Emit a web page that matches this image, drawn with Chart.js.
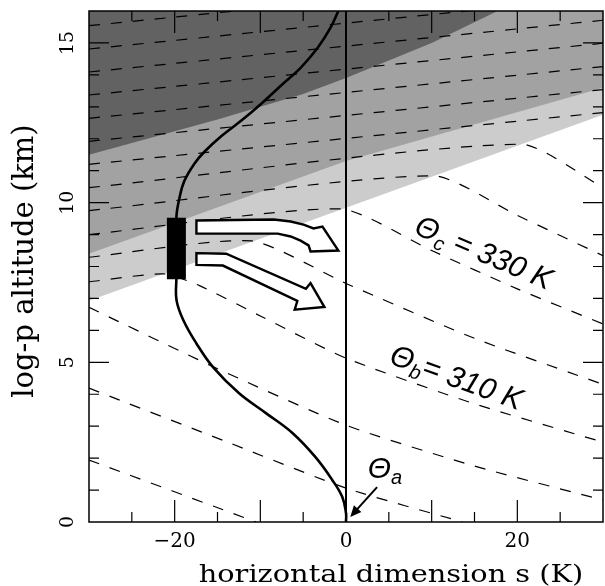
<!DOCTYPE html>
<html>
<head>
<meta charset="utf-8">
<script src="https://cdn.jsdelivr.net/npm/chart.js@4.4.0/dist/chart.umd.min.js"></script>
<style>
  html, body { margin: 0; padding: 0; background: #fff; }
  #wrap { width: 605px; height: 586px; }
</style>
</head>
<body>
<div id="wrap"><canvas id="c"></canvas></div>
<script>
// axis ranges and labels
const xMin = -30, xMax = 30;
const yMin = 0, yMax = 16;
const xTickLabels = [-20, 0, 20];
const yTickLabels = [0, 5, 10, 15];

// shading edges (s in K, altitude in km)
const darkEdgeX = [-30, -15, -5, 0, 10, 17.7, 30];
const darkEdgeY = [11.5, 12.6, 13.4, 13.9, 15.0, 16, 16];
const midEdgeX = [-30, 0, 30];
const midEdgeY = [8.4, 11.3, 13.6];
const tropoEdgeX = [-30, 0, 30];
const tropoEdgeY = [6.93, 9.84, 12.75];

// isentropes, [s, z] points, flat above the tropopause and sloping below
const isentropes = [
    [[-30, 1.94], [-10.5, 0]],
    [[-30, 4.19], [-14.3, 2.55], [0, 1.06], [13.6, 0]],
    [[-30, 6.72], [-15, 4.8], [0, 3.03], [15, 1.75], [30, 0.69]],
    [[-30, 7.52], [-21.3, 7.77], [-17.1, 7.4], [-10, 6.45], [0, 5.13], [15, 3.7], [30, 2.5]],
    [[-30, 8.29], [-11, 8.8], [0, 7.47], [15, 5.75], [30, 4.31]],
    [[-30, 9.0], [-0.5, 9.8], [10, 8.5], [20, 7.3], [30, 6.2]],
    [[-30, 9.75], [10.3, 10.84], [20, 9.6], [30, 8.34]],
    [[-30, 10.47], [20.5, 11.83], [30, 10.47]],
    [[-30, 11.2], [30, 12.82]],
    [[-30, 11.92], [30, 13.54]],
    [[-30, 12.64], [30, 14.26]],
    [[-30, 13.37], [30, 14.99]],
    [[-30, 14.09], [30, 15.71]],
    [[-30, 14.81], [30, 16.43]],
    [[-30, 15.54], [30, 17.16]]
];

// the s profile (solid curve)
const profileS = [0, 0, -0.43, -1.59, -3.56, -6.22, -9.35, -12.48, -15.5, -17.46, -18.97, -19.78, -19.8,
                  -19.8, -19.43, -18.85, -17.7, -16.5, -14.57, -12.25, -9.93, -7.61, -5.3, -3.33, -1.82, -0.89];
const profileZ = [0, 0.28, 0.78, 1.31, 2.03, 2.78, 3.41, 4.03, 4.84, 5.59, 6.31, 6.94, 7.63,
                  9.53, 10.16, 10.69, 11.22, 11.6, 12.08, 12.56, 13.09, 13.66, 14.22, 14.84, 15.47, 16];

// heating block
const blockS = -19.8;
const blockZ = [7.6, 9.53];

// outflow arrows (outline, [s, z])
const upperArrow = [[-17.46, 9.44], [-8.43, 9.47], [-6.46, 9.41], [-4.95, 9.31], [-3.79, 9.19], [-2.75, 9.25],
                    [-0.89, 8.5], [-4.14, 8.47], [-4.37, 8.66], [-5.3, 8.81], [-6.46, 8.94], [-7.97, 9.03],
                    [-17.46, 9.03]];
const lowerArrow = [[-17.46, 8.42], [-13.99, 8.40], [-4.68, 7.30], [-4.14, 7.48], [-2.52, 6.73],
                    [-5.99, 6.65], [-5.68, 6.92], [-14.37, 8.03], [-17.46, 8.05]];

const pts = (xs, ys) => xs.map((v, i) => ({ x: v, y: ys[i] }));
const pairs = arr => arr.map(p => ({ x: p[0], y: p[1] }));

const datasets = [
    { data: pts(tropoEdgeX, tropoEdgeY), fill: "end", backgroundColor: "#cccccc", borderColor: "rgba(0,0,0,0)", order: 10 },
    { data: pts(midEdgeX, midEdgeY), fill: "end", backgroundColor: "#a2a2a2", borderColor: "rgba(0,0,0,0)", order: 9 },
    { data: pts(darkEdgeX, darkEdgeY), fill: "end", backgroundColor: "#626262", borderColor: "rgba(0,0,0,0)", order: 8 }
];
isentropes.forEach(line => {
    datasets.push({
        data: pairs(line), borderColor: "#000", borderWidth: 1.2, borderDash: [11, 11],
        fill: false, tension: 0.2, order: 5
    });
});
datasets.push({ data: pts(profileS, profileZ), borderColor: "#000", borderWidth: 2.6, tension: 0.4, fill: false, order: 3 });
datasets.push({ data: [{ x: 0, y: yMin }, { x: 0, y: yMax }], borderColor: "#000", borderWidth: 2, fill: false, order: 3 });
datasets.push({ data: blockZ.map(z => ({ x: blockS, y: z })), borderColor: "#000", borderWidth: 19,
                borderCapStyle: "butt", fill: false, order: 2 });

function drawTheta(ctx, cx, cy, sub, rest, angle) {
    ctx.save();
    ctx.translate(cx, cy);
    ctx.rotate(angle * Math.PI / 180);
    const big = 'italic 30px "Liberation Sans"', small = 'italic 20px "Liberation Sans"';
    ctx.font = big;
    const w1 = ctx.measureText("Θ").width, w3 = ctx.measureText(rest).width;
    ctx.font = small;
    const w2 = ctx.measureText(sub).width;
    const x0 = -(w1 + w2 + w3) / 2;
    ctx.fillStyle = "#000";
    ctx.textAlign = "left";
    ctx.textBaseline = "alphabetic";
    ctx.font = big;
    ctx.fillText("Θ", x0, 10);
    ctx.font = small;
    ctx.fillText(sub, x0 + w1, 16);
    ctx.font = big;
    ctx.fillText(rest, x0 + w1 + w2, 10);
    ctx.restore();
}

const decor = {
    id: "decor",
    afterDatasetsDraw(chart) {
        const { ctx, chartArea: a, scales: { x, y } } = chart;
        const px = v => x.getPixelForValue(v), py = v => y.getPixelForValue(v);
        ctx.save();

        // arrows
        ctx.lineWidth = 2.4;
        ctx.lineJoin = "miter";
        [upperArrow, lowerArrow].forEach(shape => {
            ctx.beginPath();
            shape.forEach(([s, z], i) => i ? ctx.lineTo(px(s), py(z)) : ctx.moveTo(px(s), py(z)));
            ctx.closePath();
            ctx.fillStyle = "#fff";
            ctx.fill();
            ctx.strokeStyle = "#000";
            ctx.stroke();
        });

        // theta labels
        drawTheta(ctx, px(16.1), py(8.44), "c", " = 330 K", 23);
        drawTheta(ctx, px(12.9), py(4.53), "b", "= 310 K", 20);
        drawTheta(ctx, px(4.55), py(1.69), "a", "", 0);

        // pointer to theta_a
        const x1 = px(3.63), y1 = py(1.09), x2 = px(0.5), y2 = py(0.16);
        const ang = Math.atan2(y2 - y1, x2 - x1);
        ctx.strokeStyle = "#000";
        ctx.lineWidth = 2;
        ctx.beginPath();
        ctx.moveTo(x1, y1);
        ctx.lineTo(x2 - 8 * Math.cos(ang), y2 - 8 * Math.sin(ang));
        ctx.stroke();
        ctx.beginPath();
        ctx.moveTo(x2, y2);
        ctx.lineTo(x2 - 11 * Math.cos(ang) + 5 * Math.sin(ang), y2 - 11 * Math.sin(ang) - 5 * Math.cos(ang));
        ctx.lineTo(x2 - 11 * Math.cos(ang) - 5 * Math.sin(ang), y2 - 11 * Math.sin(ang) + 5 * Math.cos(ang));
        ctx.closePath();
        ctx.fillStyle = "#000";
        ctx.fill();

        // frame and inward ticks
        ctx.lineWidth = 1.5;
        ctx.strokeRect(a.left, a.top, a.width, a.height);
        ctx.lineWidth = 1.2;
        ctx.beginPath();
        for (let v = xMin + 5; v < xMax; v += 5) {
            const len = v % 10 === 0 ? 22 : 10;
            ctx.moveTo(px(v), a.bottom); ctx.lineTo(px(v), a.bottom - len);
            ctx.moveTo(px(v), a.top); ctx.lineTo(px(v), a.top + len);
        }
        for (let v = yMin + 1; v < yMax; v += 1) {
            const len = v % 5 === 0 ? 20 : 10;
            ctx.moveTo(a.left, py(v)); ctx.lineTo(a.left + len, py(v));
            ctx.moveTo(a.right, py(v)); ctx.lineTo(a.right - len, py(v));
        }
        ctx.stroke();

        // tick labels
        ctx.fillStyle = "#000";
        ctx.textAlign = "center";
        ctx.textBaseline = "middle";
        ctx.font = '20px "DejaVu Serif"';
        xTickLabels.forEach(v => {
            ctx.fillText(String(v).replace("-", "\u2212"), px(v), a.bottom + 20);
        });
        ctx.font = '19px "DejaVu Serif"';
        yTickLabels.forEach(v => {
            ctx.save();
            ctx.translate(a.left - 21, py(v));
            ctx.rotate(-Math.PI / 2);
            ctx.fillText(String(v), 0, 0);
            ctx.restore();
        });

        // axis titles
        ctx.save();
        ctx.translate(a.left + 302, a.bottom + 54);
        ctx.scale(1.2, 1);
        ctx.font = '24px "DejaVu Serif"';
        ctx.fillText("horizontal dimension s (K)", 0, 0);
        ctx.restore();

        ctx.save();
        ctx.translate(a.left - 64, a.top + 250);
        ctx.rotate(-Math.PI / 2);
        ctx.font = '29px "DejaVu Serif"';
        ctx.fillText("log-p altitude (km)", 0, 0);
        ctx.restore();

        ctx.restore();
    }
};

new Chart(document.getElementById("c"), {
    type: "line",
    data: { datasets: datasets },
    options: {
        responsive: true,
        maintainAspectRatio: false,
        animation: false,
        events: [],
        layout: { padding: { left: 89, right: 2, top: 11, bottom: 64 } },
        elements: { point: { radius: 0 } },
        plugins: { legend: { display: false }, tooltip: { enabled: false } },
        scales: {
            x: { type: "linear", min: xMin, max: xMax, display: false },
            y: { type: "linear", min: yMin, max: yMax, display: false }
        }
    },
    plugins: [decor]
});
</script>
</body>
</html>
